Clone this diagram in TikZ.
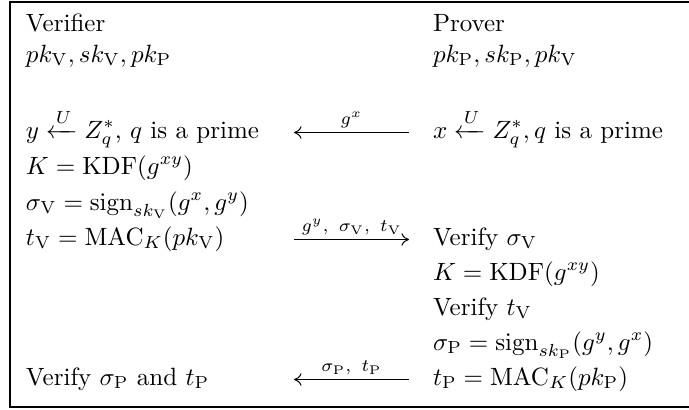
\documentclass[tikz,border=0pt]{standalone}
\usepackage{amsmath}
\usetikzlibrary{arrows.meta}
\newcommand{\rmV}{\mathrm{V}}
\newcommand{\rmP}{\mathrm{P}}
\begin{document}
\begin{tikzpicture}[x=0.40pt,y=-0.40pt,
  txt/.style={anchor=base west,inner sep=0pt,outer sep=0pt},
  msg/.style={line width=0.4pt,-{Computer Modern Rightarrow[length=3pt,width=5pt]}},
  lbl/.style={above,inner sep=1.5pt,font=\scriptsize}]
\useasboundingbox (0,0) rectangle (689,409);
\draw[line width=0.45pt] (760,2) -- (10,2) -- (10,407) -- (760,407);
% left column
\node[txt] (vh) at (26,31) {Verifier};
\node[txt] (vk) at (26,62) {$pk_{\rmV}, sk_{\rmV}, pk_{\rmP}$};
\node[txt] (vy) at (26,138) {$y \xleftarrow{U} Z_q^*$, $q$ is a prime};
\node[txt] (vK) at (26,174) {$K = \mathrm{KDF}(g^{xy})$};
\node[txt] (vs) at (26,210) {$\sigma_{\rmV} = \mathrm{sign}_{sk_{\rmV}}(g^x, g^y)$};
\node[txt] (vt) at (26,245) {$t_{\rmV} = \mathrm{MAC}_K(pk_{\rmV})$};
\node[txt] (vv) at (26,385) {Verify $\sigma_{\rmP}$ and $t_{\rmP}$};
% right column
\node[txt] (ph) at (433,31) {Prover};
\node[txt] (pk) at (433,62) {$pk_{\rmP}, sk_{\rmP}, pk_{\rmV}$};
\node[txt] (px) at (433,138) {$x \xleftarrow{U} Z_q^*, q$ is a prime};
\node[txt] (pvs) at (433,245) {Verify $\sigma_{\rmV}$};
\node[txt] (pK) at (433,280) {$K = \mathrm{KDF}(g^{xy})$};
\node[txt] (pvt) at (433,315) {Verify $t_{\rmV}$};
\node[txt] (ps) at (433,350) {$\sigma_{\rmP} = \mathrm{sign}_{sk_{\rmP}}(g^y, g^x)$};
\node[txt] (pt) at (433,385) {$t_{\rmP} = \mathrm{MAC}_K(pk_{\rmP})$};
% message arrows
\coordinate (m1a) at (409,132.5);
\coordinate (m1b) at (294,132.5);
\coordinate (m2a) at (294,239.5);
\coordinate (m2b) at (409,239.5);
\coordinate (m3a) at (409,379.5);
\coordinate (m3b) at (294,379.5);
\draw[msg] (m1a) -- node[lbl] {$g^x$} (m1b);
\draw[msg] (m2a) -- node[lbl] {$g^y,\ \sigma_{\rmV},\ t_{\rmV}$} (m2b);
\draw[msg] (m3a) -- node[lbl] {$\sigma_{\rmP},\ t_{\rmP}$} (m3b);
\end{tikzpicture}
\end{document}
